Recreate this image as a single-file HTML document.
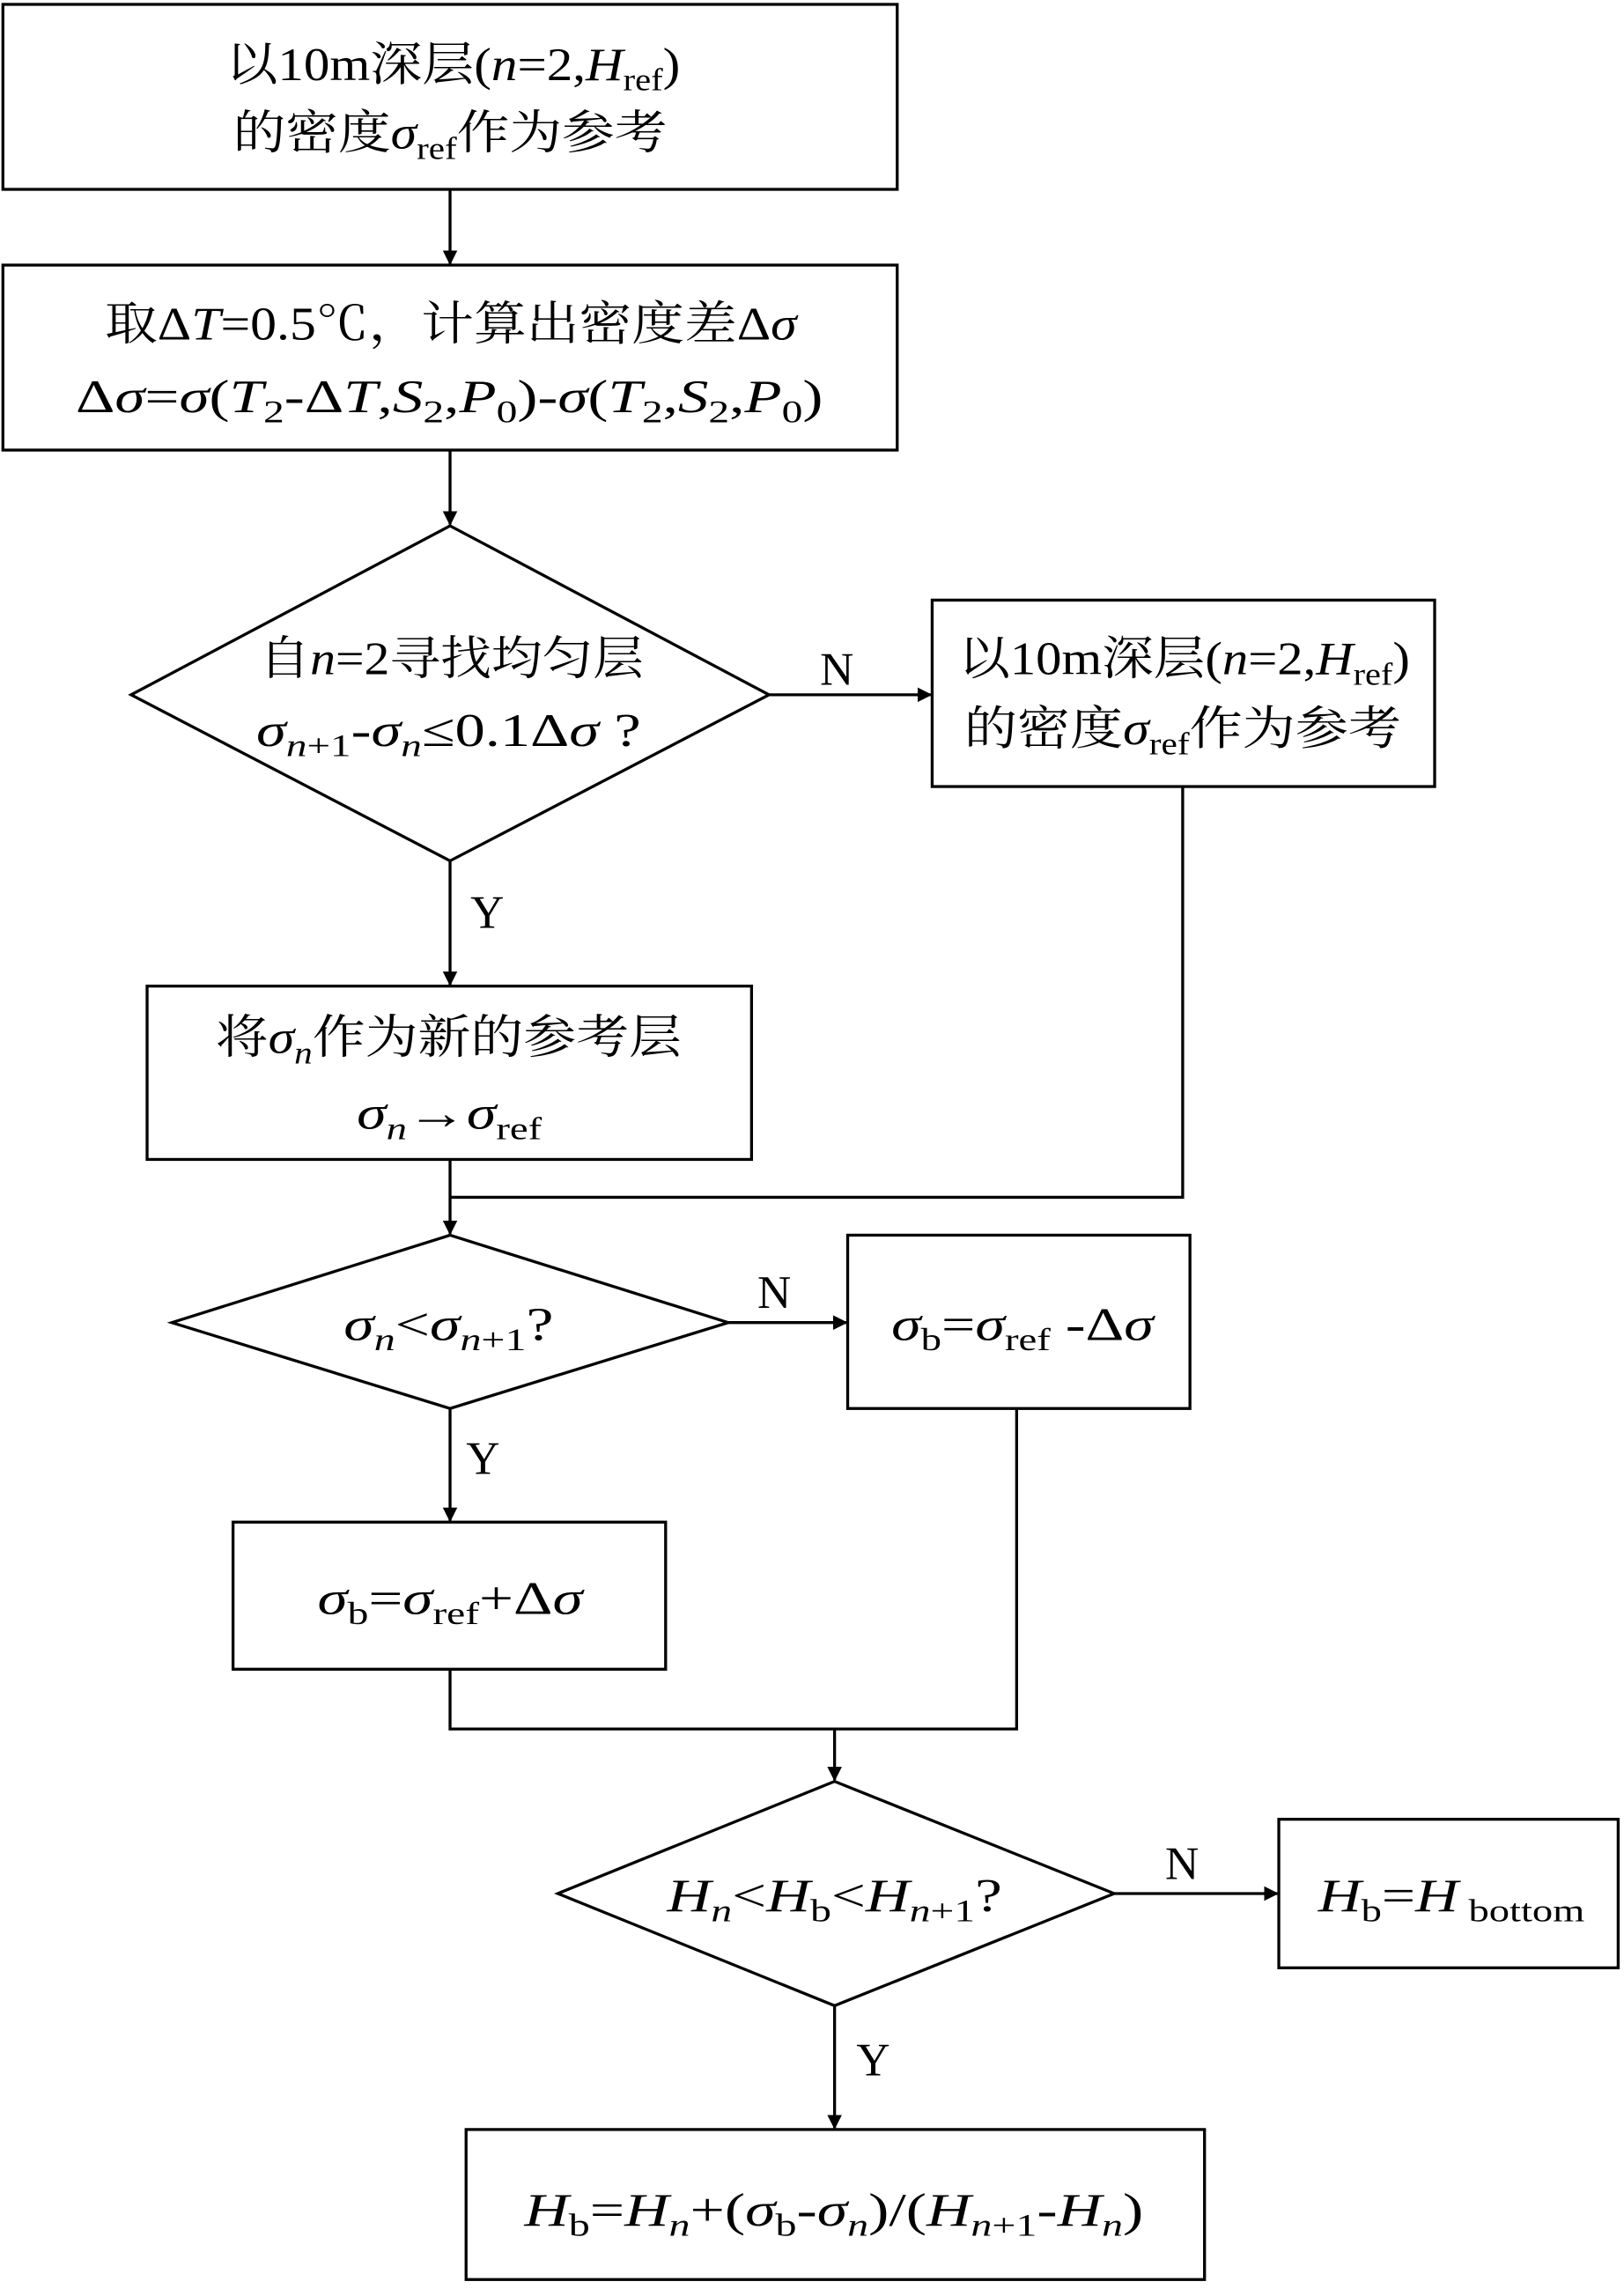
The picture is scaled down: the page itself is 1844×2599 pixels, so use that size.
<!DOCTYPE html>
<html><head><meta charset="utf-8">
<style>
html,body{margin:0;padding:0;background:#fff;}
svg{display:block;}
text{font-family:"Liberation Serif","Noto Serif CJK SC",serif;font-size:32px;fill:#000;}
.s{font-size:22px;}
.i{font-style:italic;}
</style></head>
<body>
<svg width="1844" height="2599" viewBox="0 0 1115 1571.5" preserveAspectRatio="none" xmlns="http://www.w3.org/2000/svg">
<defs>
<marker id="a" markerWidth="10" markerHeight="10" refX="9" refY="5" orient="auto" markerUnits="userSpaceOnUse" viewBox="0 0 10 10">
<path d="M0,0 L10,5 L0,10 z" fill="#000"/>
</marker>
</defs>
<g fill="none" stroke="#000" stroke-width="2">
<rect x="2" y="3" width="614" height="127"/>
<rect x="2" y="182" width="614" height="127"/>
<polygon points="309,361 528,477 309,591 90,477"/>
<rect x="640" y="412" width="345" height="128"/>
<rect x="101" y="677" width="415" height="119"/>
<polygon points="309,848 500,908 309,967 118,908"/>
<rect x="582" y="848" width="235" height="119"/>
<rect x="160" y="1045" width="297" height="101"/>
<polygon points="573,1223 765,1300 573,1377 383,1300"/>
<rect x="878" y="1249" width="233" height="102"/>
<rect x="320" y="1462" width="507" height="103"/>
<line x1="309" y1="130" x2="309" y2="181" marker-end="url(#a)"/>
<line x1="309" y1="309" x2="309" y2="360" marker-end="url(#a)"/>
<line x1="528" y1="477" x2="639" y2="477" marker-end="url(#a)"/>
<polyline points="812,540 812,822 309,822"/>
<line x1="309" y1="591" x2="309" y2="676" marker-end="url(#a)"/>
<line x1="309" y1="796" x2="309" y2="847" marker-end="url(#a)"/>
<line x1="500" y1="908" x2="581" y2="908" marker-end="url(#a)"/>
<line x1="309" y1="967" x2="309" y2="1044" marker-end="url(#a)"/>
<polyline points="309,1146 309,1187 698,1187 698,967"/>
<line x1="573" y1="1187" x2="573" y2="1222" marker-end="url(#a)"/>
<line x1="765" y1="1300" x2="877" y2="1300" marker-end="url(#a)"/>
<line x1="573" y1="1377" x2="573" y2="1461" marker-end="url(#a)"/>
</g>

<text x="155" y="55" textLength="312" lengthAdjust="spacingAndGlyphs">以10m深层(<tspan class="i">n</tspan>=2,<tspan class="i">H</tspan><tspan class="s" dy="7">ref</tspan><tspan dy="-7">)</tspan></text>
<text x="160" y="102" textLength="298" lengthAdjust="spacingAndGlyphs">的密度<tspan class="i">σ</tspan><tspan class="s" dy="7">ref</tspan><tspan dy="-7">作为参考</tspan></text>

<text x="72" y="233" textLength="475" lengthAdjust="spacingAndGlyphs">取Δ<tspan class="i">T</tspan>=0.5℃，计算出密度差Δ<tspan class="i">σ</tspan></text>
<text x="52" y="283" textLength="513" lengthAdjust="spacingAndGlyphs">Δ<tspan class="i">σ</tspan>=<tspan class="i">σ</tspan>(<tspan class="i">T</tspan><tspan class="s" dy="7">2</tspan><tspan dy="-7">-Δ</tspan><tspan class="i">T</tspan>,<tspan class="i">S</tspan><tspan class="s" dy="7">2</tspan><tspan dy="-7">,</tspan><tspan class="i">P</tspan><tspan class="s" dy="7">0</tspan><tspan dy="-7">)-</tspan><tspan class="i">σ</tspan>(<tspan class="i">T</tspan><tspan class="s" dy="7">2</tspan><tspan dy="-7">,</tspan><tspan class="i">S</tspan><tspan class="s" dy="7">2</tspan><tspan dy="-7">,</tspan><tspan class="i">P</tspan><tspan class="s" dy="7">0</tspan><tspan dy="-7">)</tspan></text>

<text x="178" y="463" textLength="264" lengthAdjust="spacingAndGlyphs">自<tspan class="i">n</tspan>=2寻找均匀层</text>
<text x="176" y="512" textLength="264" lengthAdjust="spacingAndGlyphs"><tspan class="i">σ</tspan><tspan class="s i" dy="7">n</tspan><tspan class="s" >+1</tspan><tspan dy="-7">-</tspan><tspan class="i">σ</tspan><tspan class="s i" dy="7">n</tspan><tspan dy="-7">≤0.1Δ</tspan><tspan class="i">σ</tspan> ?</text>

<text x="563" y="470">N</text>
<text x="658" y="463" textLength="310" lengthAdjust="spacingAndGlyphs">以10m深层(<tspan class="i">n</tspan>=2,<tspan class="i">H</tspan><tspan class="s" dy="7">ref</tspan><tspan dy="-7">)</tspan></text>
<text x="662" y="511" textLength="300" lengthAdjust="spacingAndGlyphs">的密度<tspan class="i">σ</tspan><tspan class="s" dy="7">ref</tspan><tspan dy="-7">作为参考</tspan></text>

<text x="323" y="637">Y</text>
<text x="148" y="723" textLength="320" lengthAdjust="spacingAndGlyphs">将<tspan class="i">σ</tspan><tspan class="s i" dy="7">n</tspan><tspan dy="-7">作为新的参考层</tspan></text>
<text x="245" y="775" textLength="127" lengthAdjust="spacingAndGlyphs"><tspan class="i">σ</tspan><tspan class="s i" dy="7">n</tspan><tspan dy="-7">→</tspan><tspan class="i">σ</tspan><tspan class="s" dy="7">ref</tspan></text>

<text x="236" y="920" textLength="144" lengthAdjust="spacingAndGlyphs"><tspan class="i">σ</tspan><tspan class="s i" dy="7">n</tspan><tspan dy="-7">&lt;</tspan><tspan class="i">σ</tspan><tspan class="s i" dy="7">n</tspan><tspan class="s">+1</tspan><tspan dy="-7">?</tspan></text>
<text x="520" y="898">N</text>
<text x="612" y="920" textLength="180" lengthAdjust="spacingAndGlyphs"><tspan class="i">σ</tspan><tspan class="s" dy="7">b</tspan><tspan dy="-7">=</tspan><tspan class="i">σ</tspan><tspan class="s" dy="7">ref</tspan><tspan dy="-7"> -Δ</tspan><tspan class="i">σ</tspan></text>
<text x="320" y="1012">Y</text>
<text x="218" y="1108" textLength="182" lengthAdjust="spacingAndGlyphs"><tspan class="i">σ</tspan><tspan class="s" dy="7">b</tspan><tspan dy="-7">=</tspan><tspan class="i">σ</tspan><tspan class="s" dy="7">ref</tspan><tspan dy="-7">+Δ</tspan><tspan class="i">σ</tspan></text>

<text x="458" y="1312" textLength="230" lengthAdjust="spacingAndGlyphs"><tspan class="i">H</tspan><tspan class="s i" dy="7">n</tspan><tspan dy="-7">&lt;</tspan><tspan class="i">H</tspan><tspan class="s" dy="7">b</tspan><tspan dy="-7">&lt;</tspan><tspan class="i">H</tspan><tspan class="s i" dy="7">n</tspan><tspan class="s">+1</tspan><tspan dy="-7">?</tspan></text>
<text x="800" y="1290">N</text>
<text x="905" y="1312" textLength="183" lengthAdjust="spacingAndGlyphs"><tspan class="i">H</tspan><tspan class="s" dy="7">b</tspan><tspan dy="-7">=</tspan><tspan class="i">H</tspan><tspan class="s" dy="7"> bottom</tspan></text>
<text x="588" y="1425">Y</text>
<text x="360" y="1528" textLength="425" lengthAdjust="spacingAndGlyphs"><tspan class="i">H</tspan><tspan class="s" dy="7">b</tspan><tspan dy="-7">=</tspan><tspan class="i">H</tspan><tspan class="s i" dy="7">n</tspan><tspan dy="-7">+(</tspan><tspan class="i">σ</tspan><tspan class="s" dy="7">b</tspan><tspan dy="-7">-</tspan><tspan class="i">σ</tspan><tspan class="s i" dy="7">n</tspan><tspan dy="-7">)/(</tspan><tspan class="i">H</tspan><tspan class="s i" dy="7">n</tspan><tspan class="s">+1</tspan><tspan dy="-7">-</tspan><tspan class="i">H</tspan><tspan class="s i" dy="7">n</tspan><tspan dy="-7">)</tspan></text>
</svg>
</body></html>
